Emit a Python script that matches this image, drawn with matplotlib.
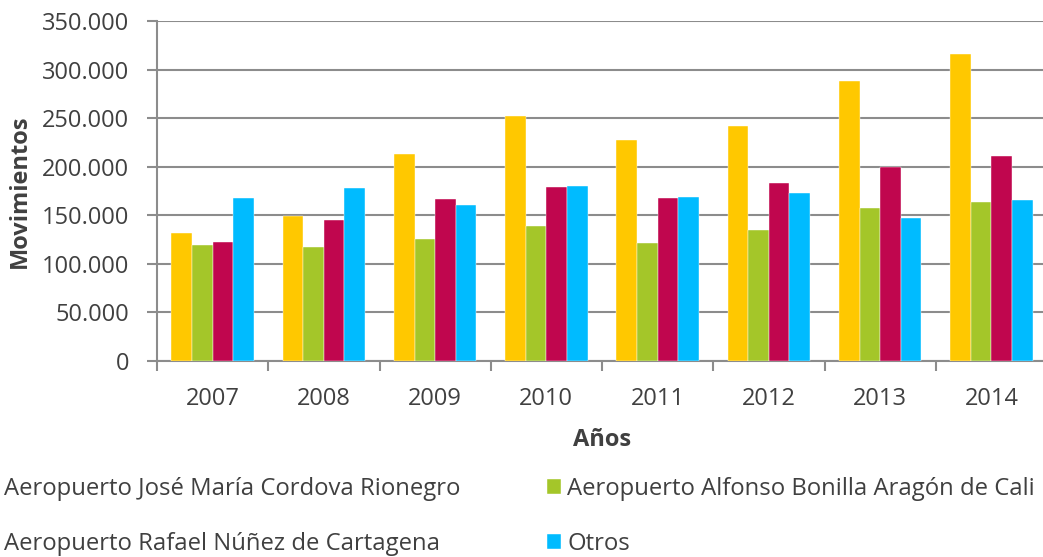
import numpy as np
import matplotlib.pyplot as plt
from matplotlib.ticker import FuncFormatter

# data
years = ["2007", "2008", "2009", "2010", "2011", "2012", "2013", "2014"]
rionegro = [132000, 149000, 213000, 252000, 227000, 242000, 288000, 316000]
cali = [119000, 117000, 126000, 139000, 121000, 135000, 157500, 164000]
cartagena = [123000, 145000, 167000, 179000, 168000, 183000, 200000, 211000]
otros = [168000, 178000, 161000, 180000, 169000, 173000, 147000, 166000]

series_names = [
    "Aeropuerto José María Cordova Rionegro",
    "Aeropuerto Alfonso Bonilla Aragón de Cali",
    "Aeropuerto Rafael Núñez de Cartagena",
    "Otros",
]
colors = ["#FFC800", "#A4C629", "#C0064E", "#00BBFF"]

plt.rcParams['font.family'] = ['Open Sans', 'DejaVu Sans']
text_color = "#404040"
grid_color = "#8c8c8c"

fig = plt.figure(figsize=(10.43, 5.57), dpi=100)
ax = fig.add_axes([157 / 1043, 1 - 361 / 557, 890 / 1043, 340 / 557])

x = np.arange(len(years))
w = 0.185
all_series = [rionegro, cali, cartagena, otros]
handles = []
for i, (vals, c) in enumerate(zip(all_series, colors)):
    b = ax.bar(x + (i - 1.5) * w, vals, width=w, color=c, zorder=3,
               edgecolor="white", linewidth=0.3)
    handles.append(b)

ax.set_xlim(-0.5, len(years) - 0.5)
ax.set_ylim(0, 350000)
ax.set_yticks(np.arange(0, 350001, 50000))
ax.yaxis.set_major_formatter(FuncFormatter(lambda v, p: f"{int(v):,}".replace(",", ".")))
ax.set_xticks(x)
ax.set_xticklabels(years)
ax.set_xticks(np.arange(-0.5, len(years)), minor=True)

ax.grid(axis="y", color=grid_color, linewidth=1.5, zorder=0)
ax.set_axisbelow(True)
for s in ["top", "right"]:
    ax.spines[s].set_visible(False)
for s in ["left", "bottom"]:
    ax.spines[s].set_color(grid_color)
    ax.spines[s].set_linewidth(1.5)

ax.tick_params(axis="y", length=7, width=1.5, color=grid_color, labelsize=17,
               labelcolor=text_color, pad=13)
ax.tick_params(axis="x", which="major", length=0, labelsize=17,
               labelcolor=text_color, pad=19)
ax.tick_params(axis="x", which="minor", length=7, width=1.5, color=grid_color)

ax.set_ylabel("Movimientos", fontsize=17, fontweight="bold", color=text_color,
              labelpad=7)
ax.set_xlabel("Años", fontsize=17, fontweight="bold", color=text_color,
              labelpad=12)

# legend fills row by row in the reference
order = [0, 2, 1, 3]
leg = fig.legend([handles[i] for i in order], [series_names[i] for i in order],
                 ncol=2, loc="upper left",
                 bbox_to_anchor=(-16 / 1043, 1 - 477 / 557), frameon=False,
                 fontsize=17.2, labelcolor=text_color, borderpad=0,
                 borderaxespad=0, handlelength=0.6, handleheight=0.6,
                 handletextpad=0.25, columnspacing=3.62, labelspacing=1.28)

fig.savefig("out.png", dpi=100)
